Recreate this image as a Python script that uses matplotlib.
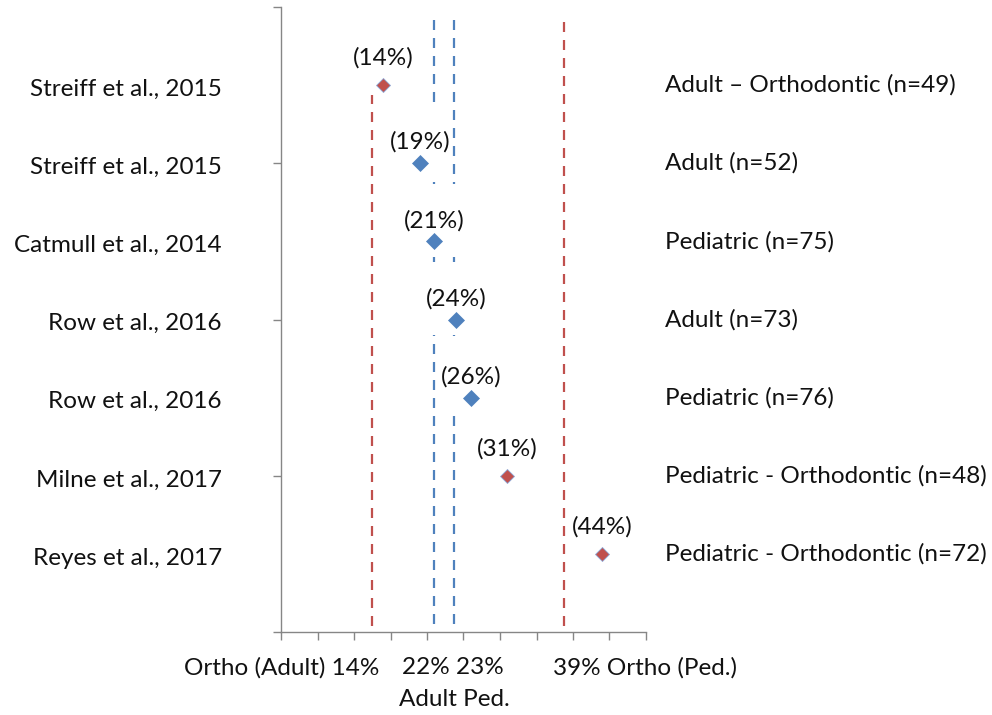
import matplotlib
matplotlib.use("Agg")
import matplotlib.pyplot as plt

plt.rcParams['font.family'] = ['Lato', 'DejaVu Sans']

# ---- data ----
studies = ["Streiff et al., 2015", "Streiff et al., 2015", "Catmull et al., 2014",
           "Row et al., 2016", "Row et al., 2016", "Milne et al., 2017", "Reyes et al., 2017"]
populations = ["Adult – Orthodontic (n=49)", "Adult (n=52)", "Pediatric (n=75)",
               "Adult (n=73)", "Pediatric (n=76)", "Pediatric - Orthodontic (n=48)",
               "Pediatric - Orthodontic (n=72)"]
values = [14, 19, 21, 24, 26, 31, 44]
orthodontic = [True, False, False, False, False, True, True]
rows = [7, 6, 5, 4, 3, 2, 1]

ortho_ref = [12.5, 38.8]     # red dashed lines
general_ref = [21.0, 23.7]   # blue dashed lines

bottom_labels = ["Ortho (Adult) 14%", "22% 23%", "39% Ortho (Ped.)"]
bottom_label_x = [0.1, 23.6, 49.8]
bottom_sub_label = "Adult Ped."
bottom_sub_x = 23.8

BLUE = "#4F81BD"
RED = "#C0504D"
GRAY = "#868686"
TXT = "#111111"
FS = 17.5

fig = plt.figure(figsize=(9.92, 7.15), dpi=100)
W, H = 992, 715
ax = fig.add_axes([281 / W, (H - 632) / H, (646 - 281) / W, (632 - 7) / H])
ax.set_xlim(0, 50)
ax.set_ylim(0, 8)

for s in ["top", "right"]:
    ax.spines[s].set_visible(False)
for s in ["left", "bottom"]:
    ax.spines[s].set_color(GRAY)
    ax.spines[s].set_linewidth(1.0)
ax.set_xticks(range(0, 51, 5))
ax.set_yticks(range(0, 9, 2))
ax.tick_params(axis="both", direction="out", length=6, width=1.0, color=GRAY,
               labelbottom=False, labelleft=False)

# reference lines
dash = (0, (4.5, 3.6))
for xv in ortho_ref:
    ax.vlines(xv, 0.08, 7.87, colors=RED, linestyles=[dash], linewidth=1.6, zorder=1,
              clip_on=False)
for xv in general_ref:
    ax.vlines(xv, 0.1, 7.87, colors=BLUE, linestyles=[dash], linewidth=1.6, zorder=1)

# points + labels (labels sit on an opaque box that interrupts the lines)
for v, r, o in zip(values, rows, orthodontic):
    if o:
        ax.plot(v, r, marker="D", ms=7.0, color=RED, mec="#8EA9D8", mew=0.6,
                zorder=4, clip_on=False)
        off = 27
    else:
        ax.plot(v, r, marker="D", ms=8.6, color=BLUE, mec=BLUE, mew=0.5,
                zorder=4, clip_on=False)
        off = 21
    ax.annotate(f" \n({v}%)\n ", (v, r), xytext=(0, off * 0.72), textcoords="offset points",
                ha="center", va="center", multialignment="center", fontsize=FS,
                color=TXT, zorder=3, linespacing=1.2,
                bbox=dict(boxstyle="square,pad=0.05", fc="white", ec="none"))

# left study labels and right population labels
for st, pop, r in zip(studies, populations, rows):
    ax.annotate(st, (-8.1, r), xytext=(0, -3), textcoords="offset points",
                ha="right", va="center", fontsize=FS, color=TXT,
                annotation_clip=False)
    ax.annotate(pop, (52.6, r), xytext=(0, 0), textcoords="offset points",
                ha="left", va="center", fontsize=FS, color=TXT,
                annotation_clip=False)

# bottom annotation labels
for lab, xv in zip(bottom_labels, bottom_label_x):
    ax.text(xv, -0.46, lab, ha="center", va="center", fontsize=FS, color=TXT,
            clip_on=False)
ax.text(bottom_sub_x, -0.87, bottom_sub_label, ha="center", va="center", fontsize=FS,
        color=TXT, clip_on=False)

fig.savefig("out.png", dpi=100)
